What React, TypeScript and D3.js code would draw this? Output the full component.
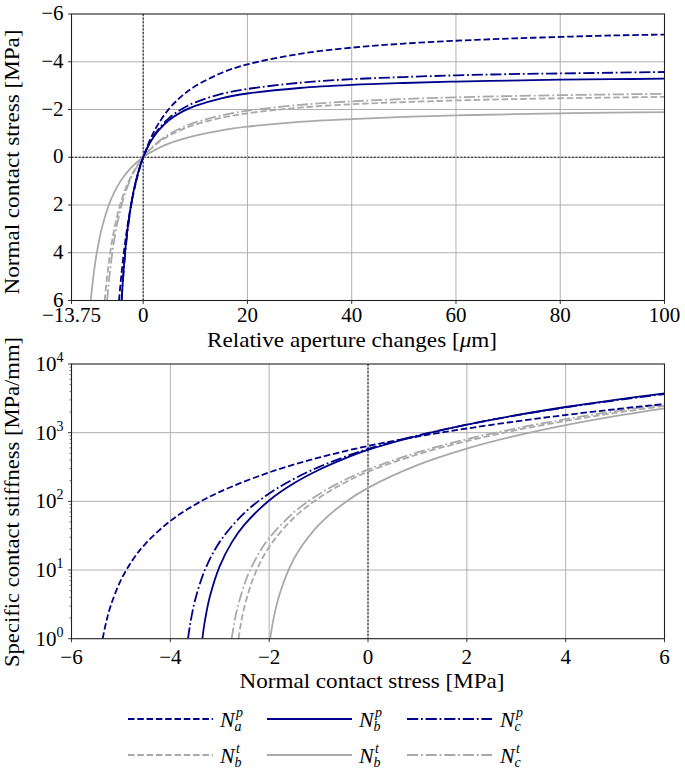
import React from "react";
import * as d3 from "d3";

const W = 685;
const H = 774;

// ---------- Top panel: relative aperture change [μm] vs normal contact stress [MPa]
const uNap = [-4.635, -4.218, -3.716, -3.101, -2.33, -1.866, -1.335, -0.72, -0.375, 0, 1, 2, 3, 5, 7.5, 10, 15, 20, 30, 40, 50, 60, 70, 80, 90, 100];
const sNap = [6, 5, 4, 3, 2, 1.5, 1, 0.5, 0.25, 0, -0.57, -1.04, -1.43, -2.04, -2.58, -2.98, -3.53, -3.89, -4.33, -4.59, -4.76, -4.88, -4.97, -5.04, -5.1, -5.14];

const uNbp = [-4.149, -3.851, -3.476, -2.991, -2.338, -1.92, -1.413, -0.789, -0.419, 0, 1, 2, 3, 5, 7.5, 10, 15, 20, 30, 40, 50, 60, 70, 80, 90, 100];
const sNbp = [6, 5, 4, 3, 2, 1.5, 1, 0.5, 0.25, 0, -0.48, -0.85, -1.14, -1.56, -1.91, -2.15, -2.47, -2.67, -2.9, -3.03, -3.11, -3.17, -3.21, -3.25, -3.27, -3.29];

const uNcp = [-4.124, -3.82, -3.439, -2.948, -2.294, -1.878, -1.378, -0.766, -0.405, 0, 1, 2, 3, 5, 7.5, 10, 15, 20, 30, 40, 50, 60, 70, 80, 90, 100];
const sNcp = [6, 5, 4, 3, 2, 1.5, 1, 0.5, 0.25, 0, -0.5, -0.89, -1.19, -1.65, -2.03, -2.3, -2.65, -2.86, -3.12, -3.27, -3.36, -3.43, -3.48, -3.51, -3.54, -3.57];

const uNbtDash = [-7.376, -6.917, -6.327, -5.538, -4.434, -3.696, -2.774, -1.586, -0.854, 0, 1, 2, 3, 5, 7.5, 10, 15, 20, 30, 40, 50, 60, 70, 80, 90, 100];
const sNbtDash = [6, 5, 4, 3, 2, 1.5, 1, 0.5, 0.25, 0, -0.25, -0.45, -0.63, -0.91, -1.17, -1.37, -1.65, -1.84, -2.08, -2.22, -2.31, -2.38, -2.43, -2.47, -2.5, -2.53];

const uNbtSolid = [-10.064, -9.561, -8.893, -7.967, -6.593, -5.623, -4.345, -2.583, -1.426, 0, 1, 2, 3, 5, 7.5, 10, 15, 20, 30, 40, 50, 60, 70, 80, 90, 100];
const sNbtSolid = [6, 5, 4, 3, 2, 1.5, 1, 0.5, 0.25, 0, -0.15, -0.27, -0.39, -0.58, -0.76, -0.91, -1.13, -1.28, -1.48, -1.6, -1.69, -1.75, -1.8, -1.84, -1.87, -1.89];

const uNct = [-6.912, -6.479, -5.923, -5.181, -4.144, -3.452, -2.589, -1.479, -0.796, 0, 1, 2, 3, 5, 7.5, 10, 15, 20, 30, 40, 50, 60, 70, 80, 90, 100];
const sNct = [6, 5, 4, 3, 2, 1.5, 1, 0.5, 0.25, 0, -0.26, -0.48, -0.67, -0.97, -1.25, -1.46, -1.75, -1.95, -2.19, -2.34, -2.44, -2.51, -2.56, -2.6, -2.63, -2.66];

// ---------- Bottom panel: normal contact stress [MPa] vs specific contact stiffness [MPa/mm]
const stNap = [-5.37, -5.3, -5.2, -5.0, -4.75, -4.5, -4, -3.5, -3, -2, -1, 0, 1, 2, 3, 4, 5, 6];
const kNap = [1, 1.72, 3.12, 7.13, 14.45, 24.3, 51.8, 89.5, 137.4, 264, 431.5, 640, 877, 1150, 1461, 1809, 2195, 2617];

const stNbp = [-3.352, -3.3, -3.2, -3.0, -2.75, -2.5, -2, -1.5, -1, -0.5, 0, 1, 2, 3, 4, 5, 6];
const kNbp = [1, 1.83, 4.11, 11.43, 25.7, 45.7, 102.9, 182.9, 285.7, 411.4, 560, 894.5, 1307, 1797, 2366, 3012, 3737];

const stNcp = [-3.642, -3.6, -3.5, -3.3, -3.0, -2.5, -2, -1.5, -1, -0.5, 0, 1, 2, 3, 4, 5, 6];
const kNcp = [1, 1.61, 3.62, 10.04, 25.7, 67.9, 130.1, 212.5, 314.9, 437.4, 580, 908, 1309, 1784, 2332, 2953, 3647];

const stNbtDash = [-2.62, -2.58, -2.5, -2.3, -2.0, -1.5, -1, -0.5, 0, 1, 2, 3, 4, 5, 6];
const kNbtDash = [1, 1.53, 2.92, 8.33, 21.65, 57.7, 111.1, 181.9, 270, 481.6, 754, 1087, 1481, 1936, 2452];

const stNbtSolid = [-1.98, -1.95, -1.9, -1.8, -1.6, -1.4, -1, -0.5, 0, 1, 2, 3, 4, 5, 6];
const kNbtSolid = [1, 1.38, 2.15, 4.2, 10.33, 19.2, 45, 92.5, 157, 337.6, 586.5, 903.8, 1289, 1743, 2265];

const stNct = [-2.758, -2.72, -2.65, -2.45, -2.2, -2.0, -1.5, -1, -0.5, 0, 1, 2, 3, 4, 5, 6];
const kNct = [1, 1.49, 2.65, 7.78, 18.0, 29.2, 69.1, 125.8, 199.5, 290, 514.7, 803.5, 1156, 1573, 2054, 2599];

// ---------- Ticks
const topXTicks = [-13.75, 0, 20, 40, 60, 80, 100];
const topXTickLabels = ["−13.75", "0", "20", "40", "60", "80", "100"];
const topYTicks = [-6, -4, -2, 0, 2, 4, 6];
const topYTickLabels = ["−6", "−4", "−2", "0", "2", "4", "6"];
const botXTicks = [-6, -4, -2, 0, 2, 4, 6];
const botXTickLabels = ["−6", "−4", "−2", "0", "2", "4", "6"];
const botYTicks = [1, 10, 100, 1000, 10000];
const botYExp = ["0", "1", "2", "3", "4"];

const BLUE = "#00008b";
const GRAY = "#a9a9a9";
const LW = 1.8;
const DASH = "6.5,2.8";
const DASHDOT = "11.2,2.8,1.8,2.8";
const FONT = "'Liberation Serif', 'DejaVu Serif', 'Times New Roman', serif";

type Series = { x: number[]; y: number[]; color: string; dash?: string };

const topSeries: Series[] = [
  { x: uNbtSolid, y: sNbtSolid, color: GRAY },
  { x: uNbtDash, y: sNbtDash, color: GRAY, dash: DASH },
  { x: uNct, y: sNct, color: GRAY, dash: DASHDOT },
  { x: uNap, y: sNap, color: BLUE, dash: DASH },
  { x: uNbp, y: sNbp, color: BLUE },
  { x: uNcp, y: sNcp, color: BLUE, dash: DASHDOT },
];

const botSeries: Series[] = [
  { x: stNbtSolid, y: kNbtSolid, color: GRAY },
  { x: stNbtDash, y: kNbtDash, color: GRAY, dash: DASH },
  { x: stNct, y: kNct, color: GRAY, dash: DASHDOT },
  { x: stNap, y: kNap, color: BLUE, dash: DASH },
  { x: stNbp, y: kNbp, color: BLUE },
  { x: stNcp, y: kNcp, color: BLUE, dash: DASHDOT },
];

const legendItems = [
  { sub: "a", sup: "p", color: BLUE, dash: DASH },
  { sub: "b", sup: "p", color: BLUE, dash: undefined },
  { sub: "c", sup: "p", color: BLUE, dash: DASHDOT },
  { sub: "b", sup: "t", color: GRAY, dash: DASH },
  { sub: "b", sup: "t", color: GRAY, dash: undefined },
  { sub: "c", sup: "t", color: GRAY, dash: DASHDOT },
];

const L = 71.5;
const R = 664.5;
const T1 = 14;
const B1 = 300.5;
const T2 = 364;
const B2 = 638.7;

export default function App() {
  const xTop = d3.scaleLinear().domain([-13.75, 100]).range([L, R]);
  const yTop = d3.scaleLinear().domain([-6, 6]).range([T1, B1]);
  const xBot = d3.scaleLinear().domain([-6, 6]).range([L, R]);
  const yBot = d3.scaleLog().domain([1, 10000]).range([B2, T2]);

  const lineTop = d3
    .line<[number, number]>()
    .x((d) => xTop(d[0]))
    .y((d) => yTop(d[1]))
    .curve(d3.curveCatmullRom.alpha(0.5));
  const lineBot = d3
    .line<[number, number]>()
    .x((d) => xBot(d[0]))
    .y((d) => yBot(d[1]))
    .curve(d3.curveCatmullRom.alpha(0.5));

  const minorTicks: number[] = [];
  for (let e = 0; e < 4; e++) for (let m = 2; m <= 9; m++) minorTicks.push(m * Math.pow(10, e));

  const gridColor = "#b0b0b0";
  const fs = 21;
  const txt = { fontFamily: FONT, fill: "#000" } as React.CSSProperties;

  return (
    <svg width={W} height={H} style={{ position: "absolute", left: 0, top: 0, background: "#fff", fontFamily: FONT }}>
      <defs>
        <clipPath id="c1">
          <rect x={L} y={T1} width={R - L} height={B1 - T1} />
        </clipPath>
        <clipPath id="c2">
          <rect x={L} y={T2} width={R - L} height={B2 - T2} />
        </clipPath>
      </defs>
      <rect x={0} y={0} width={W} height={H} fill="#fff" />

      {/* ---------- TOP PANEL ---------- */}
      <g>
        {topXTicks.slice(1).map((t) => (
          <line key={"gx" + t} x1={xTop(t)} x2={xTop(t)} y1={T1} y2={B1} stroke={gridColor} strokeWidth={1} />
        ))}
        {topYTicks.slice(1, -1).map((t) => (
          <line key={"gy" + t} x1={L} x2={R} y1={yTop(t)} y2={yTop(t)} stroke={gridColor} strokeWidth={1} />
        ))}
        <line x1={xTop(0)} x2={xTop(0)} y1={T1} y2={B1} stroke="#000" strokeWidth={0.9} strokeDasharray="2,1.6" />
        <line x1={L} x2={R} y1={yTop(0)} y2={yTop(0)} stroke="#000" strokeWidth={0.9} strokeDasharray="2,1.6" />
        <g clipPath="url(#c1)">
          {topSeries.map((s, i) => (
            <path
              key={i}
              d={lineTop(s.x.map((v, j) => [v, s.y[j]] as [number, number])) || ""}
              fill="none"
              stroke={s.color}
              strokeWidth={LW}
              strokeDasharray={s.dash}
            />
          ))}
        </g>
        <rect x={L} y={T1} width={R - L} height={B1 - T1} fill="none" stroke="#222" strokeWidth={1.1} />
        {topXTicks.map((t, i) => (
          <g key={"tx" + t}>
            <line x1={xTop(t)} x2={xTop(t)} y1={B1} y2={B1 + 3.5} stroke="#222" strokeWidth={0.9} />
            <text x={xTop(t)} y={B1 + 21.5} textAnchor="middle" fontSize={fs} style={txt}>
              {topXTickLabels[i]}
            </text>
          </g>
        ))}
        {topYTicks.map((t, i) => (
          <g key={"ty" + t}>
            <line x1={L - 3.5} x2={L} y1={yTop(t)} y2={yTop(t)} stroke="#222" strokeWidth={0.9} />
            <text x={L - 8} y={yTop(t) + 6} textAnchor="end" fontSize={fs} style={txt}>
              {topYTickLabels[i]}
            </text>
          </g>
        ))}
        <text x={352} y={B1 + 46.5} textAnchor="middle" fontSize={fs} style={txt} textLength={290} lengthAdjust="spacingAndGlyphs">
          Relative aperture changes [<tspan fontStyle="italic">μ</tspan>m]
        </text>
        <text
          transform={`translate(18.5, 162) rotate(-90)`}
          textAnchor="middle"
          fontSize={fs}
          style={txt}
          textLength={265}
          lengthAdjust="spacingAndGlyphs"
        >
          Normal contact stress [MPa]
        </text>
      </g>

      {/* ---------- BOTTOM PANEL ---------- */}
      <g>
        {botXTicks.slice(1, -1).map((t) => (
          <line key={"bgx" + t} x1={xBot(t)} x2={xBot(t)} y1={T2} y2={B2} stroke={gridColor} strokeWidth={1} />
        ))}
        {botYTicks.slice(1, -1).map((t) => (
          <line key={"bgy" + t} x1={L} x2={R} y1={yBot(t)} y2={yBot(t)} stroke={gridColor} strokeWidth={1} />
        ))}
        <line x1={xBot(0)} x2={xBot(0)} y1={T2} y2={B2} stroke="#000" strokeWidth={0.9} strokeDasharray="2,1.6" />
        <g clipPath="url(#c2)">
          {botSeries.map((s, i) => (
            <path
              key={i}
              d={lineBot(s.x.map((v, j) => [v, s.y[j]] as [number, number])) || ""}
              fill="none"
              stroke={s.color}
              strokeWidth={LW}
              strokeDasharray={s.dash}
            />
          ))}
        </g>
        <rect x={L} y={T2} width={R - L} height={B2 - T2} fill="none" stroke="#222" strokeWidth={1.1} />
        {botXTicks.map((t, i) => (
          <g key={"bx" + t}>
            <line x1={xBot(t)} x2={xBot(t)} y1={B2} y2={B2 + 3.5} stroke="#222" strokeWidth={0.9} />
            <text x={xBot(t)} y={B2 + 25} textAnchor="middle" fontSize={fs} style={txt}>
              {botXTickLabels[i]}
            </text>
          </g>
        ))}
        {minorTicks.map((t) => (
          <line key={"mt" + t} x1={L - 2} x2={L} y1={yBot(t)} y2={yBot(t)} stroke="#222" strokeWidth={0.6} />
        ))}
        {botYTicks.map((t, i) => (
          <g key={"by" + t}>
            <line x1={L - 3.5} x2={L} y1={yBot(t)} y2={yBot(t)} stroke="#222" strokeWidth={0.9} />
            <text x={L - 8} y={yBot(t) + 7} textAnchor="end" fontSize={fs} style={txt}>
              10
              <tspan dy={-9} fontSize={14}>
                {botYExp[i]}
              </tspan>
            </text>
          </g>
        ))}
        <text x={372} y={B2 + 49} textAnchor="middle" fontSize={fs} style={txt} textLength={265} lengthAdjust="spacingAndGlyphs">
          Normal contact stress [MPa]
        </text>
        <text
          transform={`translate(18.5, 502) rotate(-90)`}
          textAnchor="middle"
          fontSize={fs}
          style={txt}
          textLength={330}
          lengthAdjust="spacingAndGlyphs"
        >
          Specific contact stiffness [MPa/mm]
        </text>
      </g>

      {/* ---------- LEGEND ---------- */}
      {legendItems.map((it, i) => {
        const col = i % 3;
        const row = Math.floor(i / 3);
        const lx = [128, 267, 407][col];
        const ly = [719, 755][row];
        const tx = [220, 359, 500][col];
        return (
          <g key={"lg" + i}>
            <line x1={lx} x2={lx + 85} y1={ly} y2={ly} stroke={it.color} strokeWidth={LW + 0.2} strokeDasharray={it.dash} />
            <text x={tx} y={ly + 8} fontSize={22} fontStyle="italic" style={txt}>
              N
            </text>
            <text x={tx + 16} y={ly - 2} fontSize={14} fontStyle="italic" style={txt}>
              {it.sup}
            </text>
            <text x={tx + 14.5} y={ly + 12} fontSize={14} fontStyle="italic" style={txt}>
              {it.sub}
            </text>
          </g>
        );
      })}
    </svg>
  );
}
